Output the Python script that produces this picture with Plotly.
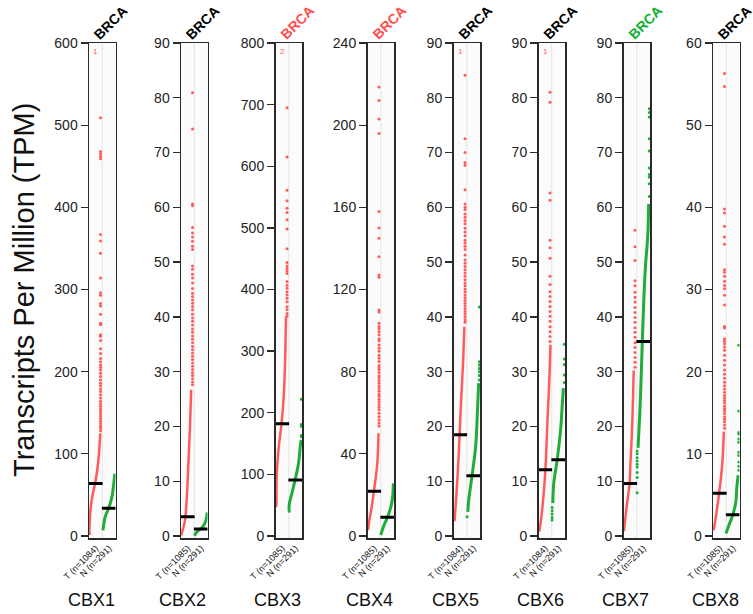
import plotly.graph_objects as go

# ---------------- data ----------------
GENES = ["CBX1", "CBX2", "CBX3", "CBX4", "CBX5", "CBX6", "CBX7", "CBX8"]
CANCER = "BRCA"
TITLE_COLORS = ["#000000", "#000000", "#ff4d4d", "#ff4d4d",
                "#000000", "#000000", "#10b030", "#000000"]
Y_MAX = [600, 90, 800, 240, 90, 90, 90, 60]
Y_DTICK = [100, 10, 100, 40, 10, 10, 10, 10]
T_COUNT = [1084, 1085, 1085, 1085, 1084, 1084, 1085, 1085]
N_COUNT = [291, 291, 291, 291, 291, 291, 291, 291]
OFFSCALE = [1, 0, 2, 0, 1, 1, 0, 0]          # tumour points above the axis top
T_MEDIAN = [64, 3.5, 182, 21.8, 18.5, 12.1, 9.6, 5.2]
N_MEDIAN = [33.7, 1.3, 91, 9.1, 11, 13.9, 35.5, 2.6]

# dense part of each group (position within group, expression value)
T_CURVE_POS = [
    [0.52, 0.56, 0.63, 0.75, 0.96, 1.12, 1.25, 1.35],
    [0.50, 0.63, 0.81, 0.94, 1.06, 1.17, 1.27],
    [0.55, 0.57, 0.60, 0.75, 0.96, 1.12, 1.22, 1.29],
    [0.55, 0.62, 0.78, 0.99, 1.24, 1.33],
    [0.58, 0.71, 0.86, 0.96, 1.09, 1.22, 1.32],
    [0.55, 0.72, 0.87, 1.02, 1.20, 1.32, 1.40],
    [0.53, 0.76, 0.96, 1.02, 1.14, 1.22, 1.27],
    [0.55, 0.73, 0.96, 1.19, 1.32],
]
T_CURVE_VAL = [
    [5, 20, 35, 48, 64, 80, 100, 125],
    [0.1, 1.1, 3.0, 7.2, 13.3, 19.4, 26.7],
    [50, 65, 102, 145, 183, 226, 280, 356],
    [3, 7, 12.7, 22, 35.4, 50],
    [2.9, 7.2, 13.3, 18.5, 25.5, 31.5, 38.2],
    [0.8, 3.5, 7.2, 12, 22.4, 28.5, 34.9],
    [0.9, 5.8, 9.6, 13.1, 19.2, 25.3, 30.2],
    [0.7, 2.5, 5.2, 8.6, 12.7],
]
N_CURVE_POS = [
    [1.55, 1.62, 1.73, 1.99, 2.24, 2.37, 2.45],
    [1.52, 1.62, 1.75, 2.00, 2.20, 2.35, 2.45, 2.48],
    [1.52, 1.55, 1.73, 1.98, 2.24, 2.37, 2.44],
    [1.50, 1.60, 1.70, 2.00, 2.27, 2.40, 2.45],
    [1.58, 1.65, 1.90, 2.17, 2.30, 2.40],
    [1.58, 1.65, 1.91, 2.17, 2.30, 2.38],
    [1.60, 1.78, 1.92, 2.04, 2.17, 2.27, 2.35, 2.40],
    [1.48, 1.70, 2.00, 2.22, 2.29, 2.40],
]
N_CURVE_VAL = [
    [7, 15, 24, 34, 48, 64, 76],
    [0.05, 0.5, 0.9, 1.3, 1.9, 2.6, 3.6, 4.3],
    [42, 53, 69, 91, 118, 145, 156],
    [0.5, 2.5, 4.5, 9, 14.3, 19, 25.7],
    [4.4, 6.6, 11, 16.3, 22.4, 27.9],
    [6, 9.6, 13.9, 19.4, 24.2, 27],
    [16.1, 25.3, 35.5, 43.6, 49.7, 52.7, 55.8, 60.6],
    [0.3, 1.3, 2.6, 4.1, 5.8, 7.4],
]

# individual sparse points above / below the dense part
T_UPPER = [
    [509, 468, 465, 462, 459, 367, 359, 344, 314, 296, 293, 283, 280, 270, 259, 257,
     245, 243, 238, 228, 222, 216, 212, 208, 205, 202, 198, 194, 190, 186, 183, 179,
     176, 172, 168, 164, 161, 158, 155, 152, 149, 146, 143, 140, 137, 134, 131, 128],
    [80.9, 74.3, 60.6, 60.3, 56.3, 55.3, 54.6, 53.8, 52.9, 52.3, 49.3, 48.7, 47.8,
     47.1, 46.2, 45.2, 44.3, 43.7, 43.1, 42.5, 41.9, 41.3, 40.5, 39.8, 39.2, 38.5,
     37.8, 37.2, 36.5, 35.9, 35.3, 34.6, 34.0, 33.4, 32.8, 32.2, 31.6, 31.0, 30.4,
     29.8, 29.3, 28.7, 28.1, 27.6],
    [695, 615, 561, 544, 532, 525, 513, 498, 466, 444, 438, 434, 430, 426, 413, 407,
     402, 396, 391, 386, 380, 372, 367, 361, 357],
    [218.6, 212, 203, 196, 158, 150, 145, 136, 127, 126, 110, 109, 103.6, 102, 101,
     99.5, 98, 96, 95, 93, 91.4, 90, 88, 86.5, 85, 83, 82, 81, 79.6, 78, 77, 75.7,
     74.4, 73, 71.8, 70.5, 69, 68, 66.6, 65.3, 64, 62.7, 61.4, 59.8, 58, 56.5, 55, 53.5],
    [84.1, 72.5, 70, 68.2, 67.7, 63.2, 60.6, 60, 59.6, 58.8, 58.2, 57.6, 57, 56.2,
     55.5, 54.8, 54, 53.5, 52.9, 52.3, 51.3, 50.4, 49.8, 49.2, 48.6, 48.0, 47.4,
     46.8, 46.2, 45.7, 45.1, 44.6, 44.0, 43.5, 43.0, 42.5, 42.0, 41.5, 41.0, 40.5,
     40.0, 39.5, 39.0],
    [81, 79.2, 62.6, 61.3, 54, 52.6, 50.7, 47.4, 45.9, 44.6, 43.7, 42.8, 41.9, 41,
     40.1, 39.2, 38.2, 37.3, 36.4, 35.5],
    [55.8, 52.8, 50.3, 46.6, 45.7, 44.5, 43.6, 42.7, 41.7, 40.8, 39.9, 39, 38, 37.2,
     36.3, 35.3, 34.4, 33.5, 32.6, 31.7, 30.8],
    [56.3, 54.7, 39.8, 39.3, 37.7, 36.4, 35.5, 32.4, 32.1, 31.6, 31, 30.5, 30.1,
     29.3, 28.1, 25.5, 25.3, 24, 23.7, 23.4, 23, 22.6, 22, 21.4, 20.8, 20.2, 19.7,
     19.2, 18.7, 18.3, 17.9, 17.5, 17.1, 16.8, 16.5, 16.2, 15.8, 15.5, 15.2, 14.9,
     14.5, 14.2, 13.9, 13.5, 13.1],
]
T_LOWER = [[3], [], [49, 55, 60], [], [2.9], [], [], []]
N_UPPER = [
    [], [], [161, 163, 178, 181, 222], [],
    [28.5, 29.3, 30, 30.6, 31.2, 31.8, 41.8],
    [28, 29.4, 31.3, 32.3, 35],
    [62, 64.3, 65.5, 66, 67.2, 70.3, 72.5, 76.5, 77.3, 78],
    [8, 8.5, 9, 9.8, 10.2, 11.4, 11.8, 12.4, 12.6, 15.2, 23.2],
]
N_LOWER = [[], [], [40], [], [3.5], [2.9, 3.4, 4.0, 4.6, 5.2],
           [7.9, 10.7, 11.6, 12.6, 13.1, 13.7, 14.3, 15, 15.5], []]

# ---------------- styling / layout ----------------
W, H = 753, 614
PANEL_LEFT = [89, 181, 275.5, 367.5, 453.5, 538.5, 623.5, 713]
PANEL_W = 26.5
TOP, BOT = 43, 538
ZERO_PAD_PX = 2
RED = "rgba(255,82,82,0.95)"
GREEN = "rgba(20,168,48,0.95)"
FONT = "Liberation Sans, Arial, Helvetica, sans-serif"
T_DOT_X = 1.37
N_DOT_X = 2.45
T_LOW_X = 0.55
N_LOW_X = 1.53

fig = go.Figure()
layout = dict(
    width=W, height=H, margin=dict(l=0, r=0, t=0, b=0, pad=0, autoexpand=False),
    paper_bgcolor="white", plot_bgcolor="#fbfbfb",
    showlegend=False, font=dict(family=FONT, color="#222"),
)
annotations = []
shapes = []

for i, gene in enumerate(GENES):
    k = "" if i == 0 else str(i + 1)
    xa, ya = "x" + k, "y" + k
    x0 = PANEL_LEFT[i] / W
    x1 = (PANEL_LEFT[i] + PANEL_W) / W
    pad = Y_MAX[i] * ZERO_PAD_PX / (BOT - TOP - ZERO_PAD_PX)
    layout["xaxis" + k] = dict(
        domain=[x0, x1], range=[0.5, 2.5], anchor=ya, automargin=False,
        tickvals=[1, 2],
        ticktext=[f"T (n={T_COUNT[i]})", f"N (n={N_COUNT[i]})"],
        tickangle=-45, tickfont=dict(size=9, color="#111", family=FONT),
        ticks="", showgrid=False, zeroline=False,
        showline=True, mirror=True, linecolor="#2a2a2a", linewidth=1.5,
    )
    layout["yaxis" + k] = dict(
        domain=[(H - BOT) / H, (H - TOP) / H], range=[-pad, Y_MAX[i]], anchor=xa,
        automargin=False,
        dtick=Y_DTICK[i], tick0=0, ticks="outside", ticklen=7, tickwidth=1.3,
        tickcolor="#2a2a2a", tickfont=dict(size=14, color="#222", family=FONT),
        showgrid=False, zeroline=False,
        showline=True, mirror=True, linecolor="#2a2a2a", linewidth=1.5,
    )
    shapes.append(dict(type="line", xref=xa, yref=ya + " domain", x0=1.5, x1=1.5,
                       y0=0, y1=1, line=dict(color="#e4e4e4", width=1), layer="below"))

    # dense curves
    fig.add_trace(go.Scatter(x=T_CURVE_POS[i], y=T_CURVE_VAL[i], mode="lines",
                             line=dict(color=RED, width=2.5, shape="spline"),
                             xaxis=xa, yaxis=ya, hoverinfo="skip"))
    fig.add_trace(go.Scatter(x=N_CURVE_POS[i], y=N_CURVE_VAL[i], mode="lines",
                             line=dict(color=GREEN, width=3, shape="spline"),
                             xaxis=xa, yaxis=ya, hoverinfo="skip"))
    # sparse dots
    tx = [T_DOT_X] * len(T_UPPER[i]) + [T_LOW_X] * len(T_LOWER[i])
    ty = T_UPPER[i] + T_LOWER[i]
    fig.add_trace(go.Scatter(x=tx, y=ty, mode="markers",
                             marker=dict(color=RED, size=3, line=dict(width=0)),
                             xaxis=xa, yaxis=ya, hoverinfo="y"))
    nx = [N_DOT_X] * len(N_UPPER[i]) + [N_LOW_X] * len(N_LOWER[i])
    ny = N_UPPER[i] + N_LOWER[i]
    fig.add_trace(go.Scatter(x=nx, y=ny, mode="markers",
                             marker=dict(color=GREEN, size=3, line=dict(width=0)),
                             xaxis=xa, yaxis=ya, hoverinfo="y"))
    # medians
    fig.add_trace(go.Scatter(x=[1, 2], y=[T_MEDIAN[i], N_MEDIAN[i]], mode="markers",
                             marker=dict(symbol="line-ew", size=10,
                                         line=dict(width=3, color="black")),
                             xaxis=xa, yaxis=ya, hoverinfo="y"))

    # cancer title (rotated)
    annotations.append(dict(
        text=f"<b>{CANCER}</b>", xref="paper", yref="paper",
        x=(PANEL_LEFT[i] + 21) / W, y=1 - 22.5 / H,
        xanchor="center", yanchor="middle", textangle=-45, showarrow=False,
        font=dict(size=14, color=TITLE_COLORS[i], family=FONT)))
    # off-scale count
    if OFFSCALE[i] > 0:
        annotations.append(dict(
            text=str(OFFSCALE[i]), xref=xa, yref=ya + " domain", x=1, y=0.982,
            xanchor="center", yanchor="middle", showarrow=False,
            font=dict(size=8, color="#ff6060", family=FONT)))
    # gene label
    annotations.append(dict(
        text=gene, xref="paper", yref="paper",
        x=(PANEL_LEFT[i] + PANEL_W + 1) / W, y=1 - 600 / H,
        xanchor="right", yanchor="middle", showarrow=False,
        font=dict(size=18, color="#111", family=FONT)))

annotations.append(dict(
    text="Transcripts Per Million (TPM)", xref="paper", yref="paper",
    x=24 / W, y=1 - 290 / H, xanchor="center", yanchor="middle",
    textangle=-90, showarrow=False, font=dict(size=29, color="#111", family=FONT)))

layout["annotations"] = annotations
layout["shapes"] = shapes
fig.update_layout(**layout)
fig.write_html(
    "out.html",
    config={"displayModeBar": False, "staticPlot": True},
    post_script="document.body.style.margin='0';document.body.style.padding='0';"
                "document.body.style.overflow='hidden';",
)
